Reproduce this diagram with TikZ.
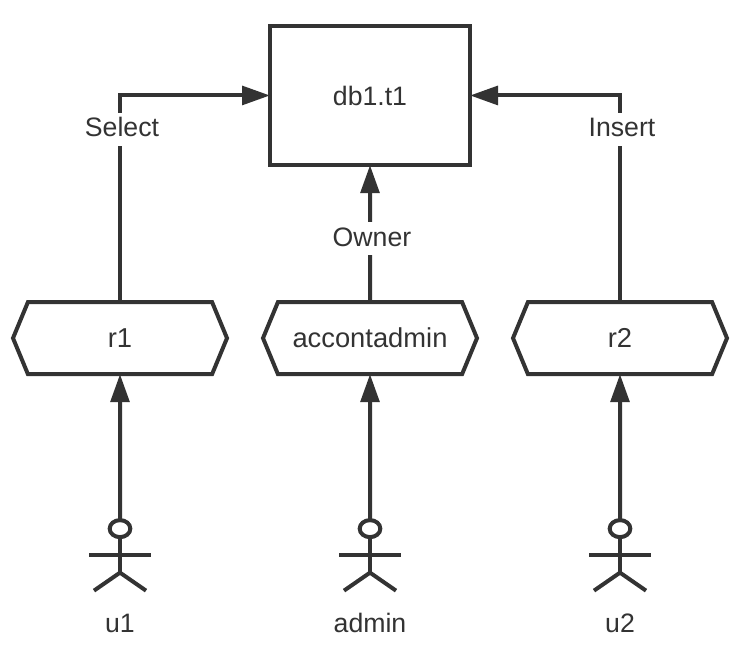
\documentclass[tikz,border=0pt]{standalone}
\usepackage{fontspec}
\usepackage{xcolor}
\setmainfont{Liberation Sans}
\usetikzlibrary{arrows.meta,positioning,shapes.geometric,shapes.symbols}
\definecolor{inkgray}{HTML}{333333}
\begin{document}
\begin{tikzpicture}[
  node distance=27pt,
  every node/.style={outer sep=0pt,text=inkgray},
  dbbox/.style={draw=inkgray,line width=3pt,minimum width=150pt,minimum height=104.5pt,font=\fontsize{20pt}{24pt}\selectfont},
  role/.style={draw=inkgray,line width=3pt,shape=signal,signal to=west and east,signal pointer angle=135,minimum width=160.5pt,minimum height=54pt,inner xsep=0pt,font=\fontsize{20.5pt}{24pt}\selectfont},
  head/.style={draw=inkgray,line width=3pt,ellipse,minimum width=15.5pt,minimum height=12.75pt,inner sep=0pt},
  caption/.style={font=\fontsize{20pt}{24pt}\selectfont,text height=15pt,text depth=4pt,inner sep=0pt},
  grant/.style={caption,fill=white,inner ysep=3pt,text depth=4pt},
  arrow/.style={-{Triangle[length=21pt,width=14pt]},draw=inkgray,line width=3pt},
  pics/limbs/.style={code={
    \draw[draw=inkgray,line width=3pt] (0,-6.4pt) -- (0,-33pt);
    \draw[draw=inkgray,line width=3pt] (-23.25pt,-19.75pt) -- (23.25pt,-19.75pt);
    \draw[draw=inkgray,line width=3pt] (-19.5pt,-46.5pt) -- (0,-33pt) -- (19.5pt,-46.5pt);
  }}
]
\useasboundingbox (0,0) rectangle (562.5pt,-501pt);
\node[dbbox] (db) at (277.5pt,-71.6pt) {db1.t1};
\node[role,below=102.75pt of db] (admrole) {accontadmin};
\node[role,left=of admrole] (r1) {r1};
\node[role,right=of admrole] (r2) {r2};
\node[head,below=109.5pt of r1] (u1) {};
\node[head,below=109.5pt of admrole] (admin) {};
\node[head,below=109.5pt of r2] (u2) {};
\pic at (u1) {limbs};
\pic at (admin) {limbs};
\pic at (u2) {limbs};
\node[caption,below=56.5pt of u1] (u1name) {u1};
\node[caption,below=56.5pt of admin] (adminname) {admin};
\node[caption,below=56.5pt of u2] (u2name) {u2};
\draw[arrow] (u1) -- (r1);
\draw[arrow] (admin) -- (admrole);
\draw[arrow] (u2) -- (r2);
\draw[arrow] (r1) |- node[grant,pos=.418,xshift=1.5pt] {Select} (db);
\draw[arrow] (r2) |- node[grant,pos=.418,xshift=1.5pt] {Insert} (db);
\draw[arrow] (admrole) -- node[grant,pos=.463,xshift=1.5pt] {Owner} (db);
\end{tikzpicture}
\end{document}
